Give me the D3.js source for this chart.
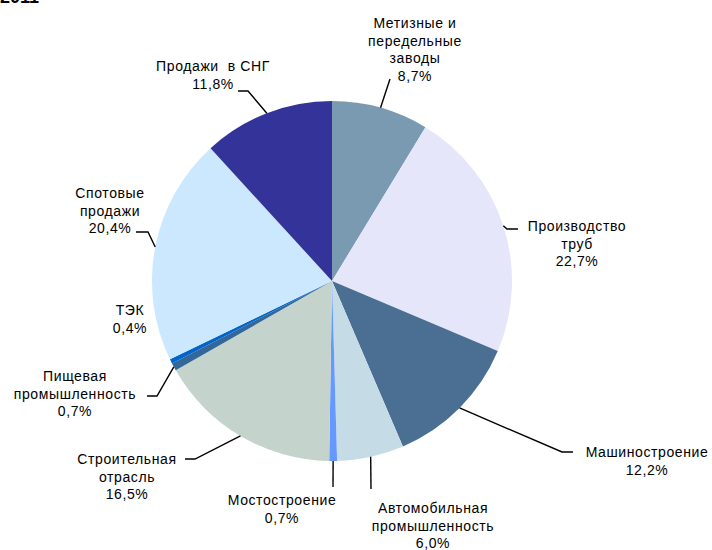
<!DOCTYPE html>
<html>
<head>
<meta charset="utf-8">
<script src="https://cdnjs.cloudflare.com/ajax/libs/d3/7.8.5/d3.min.js"></script>
<style>
  body { margin: 0; background: #fff; }
  svg text { font-family: "Liberation Sans", Arial, sans-serif; fill: #000; white-space: pre; }
</style>
</head>
<body>
<div id="chart"></div>
<script>
// data
var categories = ["Метизные и\nпередельные\nзаводы", "Производство\nтруб", "Машиностроение",
                  "Автомобильная\nпромышленность", "Мостостроение", "Строительная\nотрасль",
                  "Пищевая\nпромышленность", "ТЭК", "Спотовые\nпродажи", "Продажи  в СНГ"];
var values = [8.7, 22.7, 12.2, 6.0, 0.7, 16.5, 0.7, 0.4, 20.4, 11.8];
var valueLabels = ["8,7%", "22,7%", "12,2%", "6,0%", "0,7%", "16,5%", "0,7%", "0,4%", "20,4%", "11,8%"];
var colors = ["#7A9AB2", "#E6E6FA", "#4A6F93", "#C5DCE7", "#6699FF", "#C4D3CB",
              "#336699", "#0066CC", "#CCE8FF", "#333399"];

// label layout: text centre x, first line y, leader elbow points (after the pie edge point)
var labelX = [415, 577, 647, 433, 282, 127, 75, 130, 110, 213];
var labelY = [28, 231, 457, 513, 505, 464, 381, 315, 198, 71];
var elbows = [
  [[390, 79]],
  [[507, 229], [518, 229]],
  [[562, 452], [573, 452]],
  [[371, 489]],
  [[333, 487]],
  [[195, 459], [185, 459]],
  [[157, 396], [147, 396]],
  null,
  [[148, 232], [136, 232]],
  [[248, 91], [238, 91]]
];

var width = 712, height = 550;
var cx = 332, cy = 281, radius = 180;
var lineH = 17.5;

var svg = d3.select("#chart").append("svg")
    .attr("width", width)
    .attr("height", height);

// cut-off title at the top
svg.append("text")
    .attr("x", 0).attr("y", 3)
    .style("font-size", "18px").style("font-weight", "bold")
    .text("2011");

var pie = d3.pie().sort(null).value(function(d){ return d; });
var arcs = pie(values);

var arc = d3.arc().innerRadius(0).outerRadius(radius);

var g = svg.append("g").attr("transform", "translate(" + cx + "," + cy + ")");

g.selectAll("path.slice")
  .data(arcs)
  .enter()
  .append("path")
    .attr("class", "slice")
    .attr("d", arc)
    .style("fill", function(d, i){ return colors[i]; });

// leader lines, starting on the pie edge at the slice middle
var line = d3.line();

arcs.forEach(function(d, i){
  if (!elbows[i]) return;
  var mid = (d.startAngle + d.endAngle) / 2;
  var p0 = [cx + Math.sin(mid) * radius, cy - Math.cos(mid) * radius];
  var pts = [p0].concat(elbows[i]);
  svg.append("path")
    .attr("d", line(pts))
    .style("fill", "none")
    .style("stroke", "#000")
    .style("stroke-width", 1.4);
});

// labels
categories.forEach(function(name, i){
  var lines = name.split("\n").concat([valueLabels[i]]);
  var t = svg.append("text")
    .attr("text-anchor", "middle")
    .style("font-size", "14px")
    .style("letter-spacing", "0.6px");
  lines.forEach(function(s, j){
    t.append("tspan")
      .attr("x", labelX[i])
      .attr("y", labelY[i] + j * lineH)
      .text(s);
  });
});
</script>
</body>
</html>
